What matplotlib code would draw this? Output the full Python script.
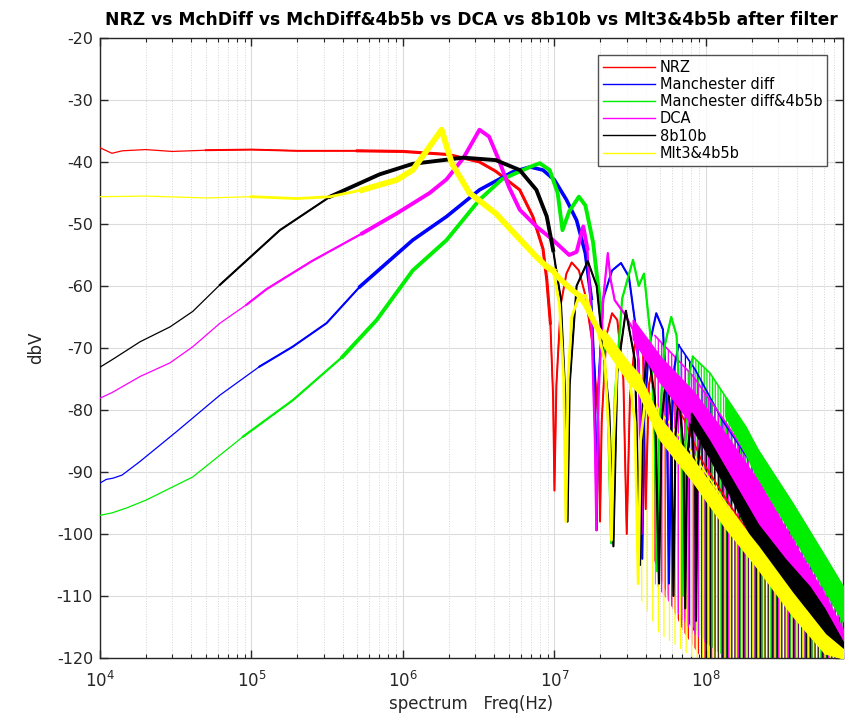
import numpy as np
import matplotlib.pyplot as plt
from matplotlib.ticker import LogLocator, MultipleLocator

# ─── DATA ─────────────────────────────────────────────────────────────────────
labels = ["NRZ", "Manchester diff", "Manchester diff&4b5b", "DCA", "8b10b", "Mlt3&4b5b"]
colors = ["#ff0000", "#0000ff", "#00ee00", "#ff00ff", "#000000", "#ffff00"]

# main traces (flat / rising part, main lobe and first side lobes)
nrz_f = [1e4, 1.2e4, 1.4e4, 2e4, 3e4, 5e4, 1e5, 2e5, 5e5, 1e6, 2e6, 3.2e6, 4.1e6,
         5.9e6, 7.2e6, 8.4e6, 8.9e6, 9.4e6, 9.8e6, 1.0e7, 1.03e7, 1.1e7, 1.2e7,
         1.3e7, 1.45e7, 1.6e7, 1.8e7, 1.95e7, 2.0e7, 2.05e7, 2.2e7, 2.4e7, 2.6e7,
         2.85e7, 3.0e7, 3.15e7, 3.4e7, 3.6e7, 3.85e7, 4.0e7, 4.2e7, 4.5e7]
nrz_db = [-37.7, -38.6, -38.2, -38.0, -38.3, -38.1, -38.0, -38.2, -38.2, -38.3,
          -38.8, -40.0, -41.5, -44.5, -48.8, -54.0, -59.0, -66.0, -78.0, -93.0,
          -76.0, -63.0, -58.0, -56.2, -57.5, -61.5, -70.0, -82.0, -98.0, -82.0,
          -68.0, -64.4, -65.5, -75.0, -100.0, -78.0, -69.0, -67.6, -71.0, -96.0,
          -76.0, -72.4]

mch_f = [1e4, 1.1e4, 1.22e4, 1.4e4, 1.84e4, 3.2e4, 6.2e4, 1.13e5, 1.87e5, 3.13e5,
         5.2e5, 1.16e6, 1.94e6, 3.2e6, 5.3e6, 6.9e6, 8.4e6, 1.0e7, 1.2e7, 1.4e7,
         1.6e7, 1.75e7, 1.85e7, 1.9e7, 1.95e7, 2.1e7, 2.4e7, 2.75e7, 3.1e7, 3.5e7,
         3.7e7, 3.8e7, 3.9e7, 4.2e7, 4.7e7, 5.2e7, 5.5e7, 5.7e7, 5.9e7, 6.2e7, 6.6e7]
mch_db = [-91.8, -91.2, -91.0, -90.5, -88.3, -83.5, -77.6, -73.0, -69.8, -66.0,
          -60.1, -52.6, -48.8, -44.5, -41.6, -40.8, -41.3, -42.9, -46.1, -49.4,
          -54.7, -62.0, -75.0, -99.4, -76.0, -62.0, -57.5, -56.3, -58.5, -68.0,
          -80.0, -104.0, -82.0, -70.0, -64.4, -67.0, -78.0, -108.0, -84.0, -73.0,
          -69.5]

m4b_f = [1e4, 1.2e4, 1.5e4, 2.03e4, 4.1e4, 8.8e4, 1.88e5, 4e5, 6.7e5, 1.16e6,
         1.94e6, 3.2e6, 4.5e6, 6.9e6, 8e6, 9.3e6, 1.05e7, 1.13e7, 1.25e7, 1.45e7,
         1.6e7, 1.8e7, 2.05e7, 2.25e7, 2.37e7, 2.5e7, 2.8e7, 3.3e7, 3.6e7, 3.9e7,
         4.3e7, 4.6e7, 4.75e7, 4.9e7, 5.3e7, 5.9e7, 6.4e7, 6.9e7, 7.1e7, 7.3e7,
         7.8e7, 8.2e7]
m4b_db = [-97.0, -96.6, -95.8, -94.5, -90.8, -84.3, -78.4, -71.4, -65.5, -57.5,
          -52.6, -46.1, -42.8, -40.8, -40.2, -41.3, -45.0, -51.0, -48.0, -45.6,
          -47.0, -53.0, -65.0, -80.0, -101.5, -78.0, -62.0, -55.8, -60.0, -58.0,
          -68.0, -85.0, -106.0, -84.0, -70.0, -65.0, -68.0, -85.0, -110.0, -86.0,
          -74.0, -71.4]

dca_f = [1e4, 1.2e4, 1.84e4, 2.9e4, 4.1e4, 6.2e4, 9.3e4, 1.26e5, 2.5e5, 5.4e5,
         9.1e5, 1.5e6, 1.94e6, 2.5e6, 3.2e6, 3.7e6, 4.3e6, 5e6, 5.9e6, 7.6e6,
         9.8e6, 1.25e7, 1.4e7, 1.55e7, 1.65e7, 1.75e7, 1.85e7, 1.89e7, 1.95e7,
         2.1e7, 2.25e7, 2.35e7, 2.5e7, 2.9e7, 3.3e7, 3.6e7, 3.75e7, 3.85e7, 4.0e7,
         4.3e7, 4.6e7]
dca_db = [-78.1, -77.2, -74.6, -72.4, -69.8, -66.0, -63.0, -60.5, -56.0, -51.5,
          -48.3, -45.0, -42.8, -39.4, -34.8, -35.9, -39.7, -44.0, -47.7, -50.4,
          -52.6, -55.0, -54.5, -50.4, -54.0, -65.0, -85.0, -99.4, -78.0, -62.0,
          -54.7, -59.0, -62.3, -64.5, -67.0, -72.0, -100.0, -78.0, -70.0, -70.5,
          -72.0]

b10_f = [1e4, 1.22e4, 1.84e4, 2.9e4, 4.1e4, 6.2e4, 1.54e5, 3.3e5, 7e5, 1.16e6,
         2.5e6, 4.1e6, 5.9e6, 7.6e6, 8.9e6, 9.8e6, 1.1e7, 1.18e7, 1.22e7, 1.26e7,
         1.4e7, 1.66e7, 1.9e7, 2.3e7, 2.45e7, 2.6e7, 2.96e7, 3.4e7, 3.67e7, 3.85e7,
         4.1e7, 4.6e7, 4.9e7, 5.1e7, 5.5e7, 5.9e7, 6.1e7, 6.3e7, 6.6e7, 7.1e7,
         7.3e7, 7.5e7, 8e7, 8.5e7, 8.6e7, 8.8e7, 9.3e7]
b10_db = [-73.1, -71.8, -69.0, -66.6, -64.1, -59.8, -51.0, -45.6, -42.0, -40.3,
          -39.3, -39.7, -41.3, -44.5, -48.8, -54.2, -62.0, -78.0, -98.0, -76.0,
          -60.0, -56.0, -60.0, -80.0, -102.0, -74.0, -64.0, -72.0, -105.0, -78.0,
          -69.8, -78.0, -108.0, -82.0, -73.5, -82.0, -110.0, -84.0, -77.5, -86.0,
          -112.0, -88.0, -81.0, -92.0, -114.0, -90.0, -83.2]

mlt_f = [1e4, 2e4, 5e4, 1e5, 2e5, 3.3e5, 5.4e5, 9.1e5, 1.16e6, 1.5e6, 1.8e6,
         2.1e6, 2.75e6, 4.1e6, 6.2e6, 7.6e6, 8.9e6, 9.8e6, 1.08e7, 1.15e7, 1.19e7,
         1.23e7, 1.3e7, 1.45e7, 1.6e7, 1.9e7, 2.15e7, 2.3e7, 2.38e7, 2.46e7, 2.6e7,
         3.1e7, 3.4e7, 3.57e7, 3.7e7, 4.0e7]
mlt_db = [-45.6, -45.5, -45.8, -45.6, -45.9, -45.6, -44.5, -42.9, -41.3, -37.5,
          -34.8, -40.2, -45.0, -48.3, -53.0, -55.3, -56.9, -57.5, -63.0, -75.0,
          -98.0, -75.0, -65.0, -61.7, -61.5, -66.6, -72.0, -85.0, -101.0, -85.0,
          -72.0, -74.0, -82.0, -108.0, -85.0, -78.0]

# yellow noise band continuing under the first null
mlt_band_f = [8.9e6, 9.8e6, 1.08e7, 1.3e7, 1.45e7, 1.6e7, 1.9e7, 2.1e7]
mlt_band_db = [-56.9, -57.6, -58.8, -60.6, -61.5, -63.0, -66.6, -68.2]

# high-frequency tails: upper envelope of the side lobes and depth of the nulls
nrz_tail_f = [4.5e7, 6e7, 7.2e7, 9.3e7, 1.5e8, 2.5e8, 4e8, 6e8, 8e8]
nrz_tail_top = [-72, -78, -81.6, -88, -96, -104, -110, -115, -118.5]
nrz_tail_floor = [-104, -112, -116, -120, -120, -120, -120, -120, -120]

mch_tail_f = [6.6e7, 8.5e7, 1.28e8, 2.2e8, 3.7e8, 6.1e8, 8e8]
mch_tail_top = [-69.5, -73.5, -81.6, -90.2, -98.2, -107, -112.8]
mch_tail_floor = [-112, -116, -120, -120, -120, -120, -120]

m4b_tail_f = [8.2e7, 1.06e8, 1.35e8, 1.83e8, 2.2e8, 3.7e8, 6.1e8, 8e8]
m4b_tail_top = [-71.4, -74, -77.9, -82.7, -86.5, -95, -103.7, -108.5]
m4b_tail_floor = [-115, -118, -120, -120, -120, -120, -120, -120]

dca_tail_f = [4.6e7, 8.2e7, 1.35e8, 2.2e8, 3.7e8, 6.1e8, 8e8]
dca_tail_top = [-68, -74.5, -82, -90, -100, -109, -114]
dca_tail_floor = [-108, -116, -120, -120, -120, -120, -120]

b10_tail_f = [9.3e7, 1.5e8, 2.2e8, 3.3e8, 4.8e8, 8e8]
b10_tail_top = [-83, -90, -97, -103, -108, -116]
b10_tail_floor = [-120, -120, -120, -120, -120, -120]

mlt_tail_f = [3.6e7, 4.9e7, 8.2e7, 1.35e8, 2.2e8, 3.7e8, 6.1e8, 8e8]
mlt_tail_top = [-74, -80, -87, -95, -102, -110, -116.5, -119]
mlt_tail_floor = [-110, -116, -120, -120, -120, -120, -120, -120]

# solid noisy bands (upper / lower edge) that run through the tails
m4b_core_f = [1.35e8, 1.83e8, 2.2e8, 3.7e8, 6.1e8, 8e8]
m4b_core_hi = [-78, -83, -86.5, -95, -103.7, -108.5]
m4b_core_lo = [-81, -87, -91, -100, -109, -114]
dca_core_f = [3.3e7, 5e7, 8.2e7, 1.35e8, 2.2e8, 3.7e8, 6.1e8, 8e8]
dca_core_hi = [-65.5, -71.5, -77, -84, -91.5, -101, -110, -115.5]
dca_core_lo = [-68.5, -75.5, -82.5, -90.5, -98.5, -108, -116.5, -120]
b10_core_f = [8e7, 1.05e8, 1.5e8, 2.2e8, 3.3e8, 4.8e8, 6e8, 7.6e8, 8e8]
b10_core_hi = [-80.5, -85, -91.5, -98.5, -104, -108.5, -112, -116.5, -117.5]
b10_core_lo = [-82.5, -87.5, -94.5, -102.5, -108, -112.5, -116, -120, -120]
mlt_core_f = [2.1e7, 3.1e7, 3.6e7, 4.9e7, 8.2e7, 1.35e8, 2.2e8, 3.7e8, 6.1e8, 8e8]
mlt_core_hi = [-67, -72.5, -74.3, -81.2, -88, -95.5, -102, -109.5, -116.2, -118.6]
mlt_core_lo = [-69.5, -75.5, -77.2, -84.5, -91.5, -99, -105.5, -113, -119.2, -120]

mains = [(nrz_f, nrz_db), (mch_f, mch_db), (m4b_f, m4b_db),
         (dca_f, dca_db), (b10_f, b10_db), (mlt_f, mlt_db)]
tails = [(nrz_tail_f, nrz_tail_top, nrz_tail_floor),
         (mch_tail_f, mch_tail_top, mch_tail_floor),
         (m4b_tail_f, m4b_tail_top, m4b_tail_floor),
         (dca_tail_f, dca_tail_top, dca_tail_floor),
         (b10_tail_f, b10_tail_top, b10_tail_floor),
         (mlt_tail_f, mlt_tail_top, mlt_tail_floor)]
cores = [None, None, (m4b_core_f, m4b_core_hi, m4b_core_lo),
         (dca_core_f, dca_core_hi, dca_core_lo),
         (b10_core_f, b10_core_hi, b10_core_lo),
         (mlt_core_f, mlt_core_hi, mlt_core_lo)]

# ─── STYLE ────────────────────────────────────────────────────────────────────
# (medium from, thick from, thick until, medium until) per trace
WIDTH_RANGES = [(5e4, 4e5, 9.4e6, 4.5e7), (1e5, 5e5, 1.8e7, 6.6e7),
                (8e4, 4e5, 2.1e7, 8.2e7), (8e4, 4e5, 1.7e7, 4.6e7),
                (5e4, 3e5, 1.05e7, 9.3e7), (8e4, 5e5, 9.8e6, 4.0e7)]
MED_LW = [1.4, 1.5, 1.6, 1.6, 1.5, 2.0]
THICK_LW = [2.2, 2.6, 2.8, 2.8, 2.8, 4.2]
HATCHES = ["|" * 5, "|" * 4, "|" * 6, "|" * 5, "|" * 4, "|" * 3]

plt.rcParams["font.family"] = "DejaVu Sans"
plt.rcParams["axes.unicode_minus"] = False
plt.rcParams["hatch.linewidth"] = 0.9

fig = plt.figure(figsize=(8.47, 7.18), dpi=100)
ax = fig.add_axes([0.118, 0.0836, 0.877, 0.8635])

for i, (lab, col) in enumerate(zip(labels, colors)):
    tf, top, floor = tails[i]
    ax.fill_between(tf, floor, top, facecolor="none", edgecolor=col,
                    hatch=HATCHES[i], linewidth=0, zorder=2)
    ax.plot(tf, top, color=col, lw=1.2, zorder=2.5)

for i, (lab, col) in enumerate(zip(labels, colors)):
    f, db = mains[i]
    fa, da = np.array(f), np.array(db)
    ax.plot(fa, da, color=col, lw=0.9, label=lab, zorder=3)
    f_med, f_thick, f_thick_end, f_med_end = WIDTH_RANGES[i]
    sel = (fa >= f_med) & (fa <= f_med_end)
    ax.plot(fa[sel], da[sel], color=col, lw=MED_LW[i], zorder=3)
    sel = (fa >= f_thick) & (fa <= f_thick_end)
    ax.plot(fa[sel], da[sel], color=col, lw=THICK_LW[i], zorder=3)
    if cores[i] is not None:
        cf, chi, clo = cores[i]
        ax.fill_between(cf, clo, chi, color=col, linewidth=1.5, zorder=3.5)

ax.plot(mlt_band_f, mlt_band_db, color=colors[5], lw=4.0, zorder=3.5)

ax.set_xscale("log")
ax.set_xlim(1e4, 8e8)
ax.set_ylim(-120, -20)
ax.yaxis.set_major_locator(MultipleLocator(10))
ax.xaxis.set_major_locator(LogLocator(base=10))
ax.xaxis.set_minor_locator(LogLocator(base=10, subs=np.arange(2, 10)))

ax.grid(True, which="major", color="#dcdcdc", lw=0.8, zorder=0)
ax.grid(True, which="minor", axis="x", color="#d4d4d4", lw=0.7, ls=":", zorder=0)
ax.set_axisbelow(True)

ax.tick_params(which="both", direction="in", top=True, right=True,
               colors="#262626", labelsize=11.5)
ax.tick_params(which="major", length=6, width=1.0)
ax.tick_params(which="minor", length=3, width=0.8)
ax.tick_params(axis="x", which="major", pad=9, labelsize=12)
ax.tick_params(axis="y", which="major", pad=5)
for sp in ax.spines.values():
    sp.set_color("#262626")
    sp.set_linewidth(1.0)

ax.set_xlabel("spectrum   Freq(Hz)", fontsize=12, color="#262626", labelpad=3)
ax.set_ylabel("dbV", fontsize=12, color="#262626", labelpad=8)
ax.set_title("NRZ vs MchDiff vs MchDiff&4b5b vs DCA vs 8b10b vs Mlt3&4b5b after filter",
             fontsize=12.3, fontweight="bold", pad=9)

leg = ax.legend(loc="upper right", bbox_to_anchor=(0.979, 0.973), fontsize=10.5,
                frameon=True, fancybox=False, edgecolor="#262626",
                handlelength=3.6, labelspacing=0.15, borderpad=0.35,
                handletextpad=0.3, borderaxespad=0)
leg.get_frame().set_linewidth(1.0)
for h in leg.get_lines():
    h.set_linewidth(1.0)
leg.set_zorder(10)

fig.savefig("out.png", dpi=100)
print("saved out.png")
